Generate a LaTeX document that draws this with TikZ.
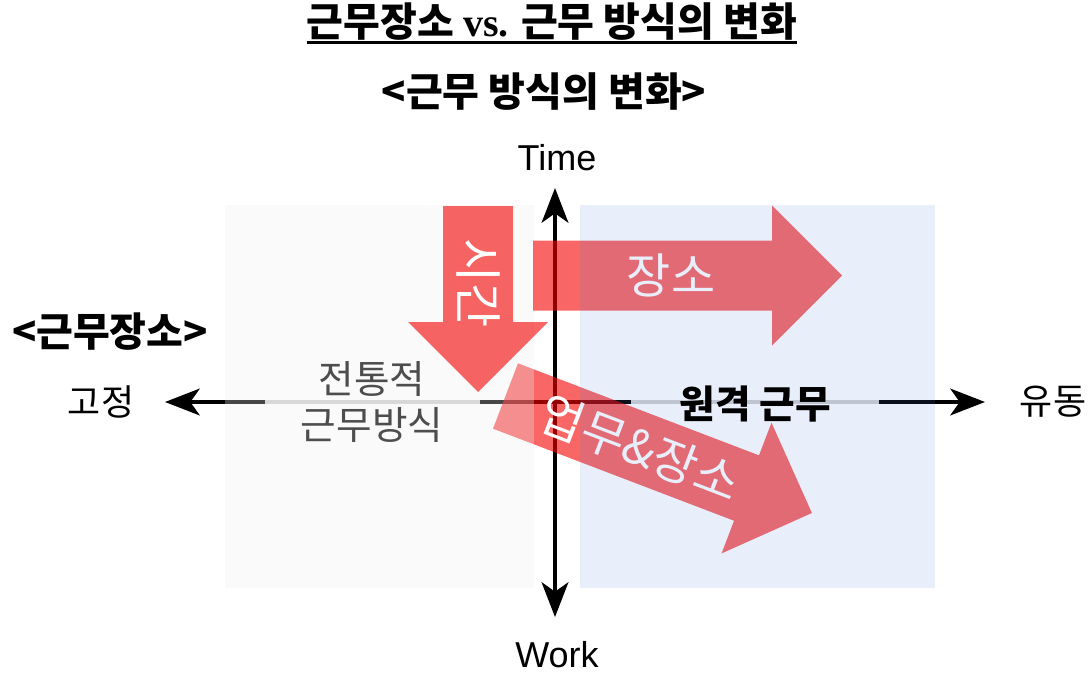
\documentclass[tikz,border=0pt]{standalone}
\usepackage{fontspec}
\usepackage{tikz}
\usetikzlibrary{arrows.meta}
\setmainfont{Liberation Sans}
\newfontfamily\kr{Noto Sans CJK KR}
\newfontfamily\tnr{Liberation Serif}

\definecolor{arrowred}{RGB}{245,0,0}
\definecolor{grayzone}{RGB}{237,237,237}
\definecolor{bluezone}{RGB}{78,132,217}
\definecolor{grayveil}{RGB}{249,249,249}
\definecolor{blueveil}{RGB}{232,239,250}
\definecolor{tradtext}{RGB}{77,77,77}

\tikzset{
  axis/.style={line width=3pt, {Stealth[length=26pt,width=20pt,inset=7pt]}-{Stealth[length=26pt,width=20pt,inset=7pt]}},
  redarrow/.style={fill=arrowred, fill opacity=0.6},
  fatarrow/.pic={
    \fill[redarrow] (0,-35) -- (#1,-35) -- (#1,-70) -- (#1+70,0) -- (#1,70) -- (#1,35) -- (0,35) -- cycle;
  },
  krtxt/.style={font=\kr\fontsize{27}{34}\selectfont},
  krbold/.style={font=\kr\bfseries\fontsize{30}{34}\selectfont},
  intext/.style={font=\kr\fontsize{36}{40}\selectfont, text=white},
  veil/.style={line width=3pt, draw opacity=0.82}
}

\begin{document}
\begin{tikzpicture}[x=0.75pt,y=-0.75pt]
  \useasboundingbox (0,0) rectangle (1091,674);

  % titles
  \node[krbold, anchor=base, inner sep=0] (title) at (552,37) {근무장소 {\tnr vs.} 근무 방식의 변화};
  \draw[line width=2.2pt] ([yshift=-4pt]title.base west) -- ([yshift=-4pt]title.base east);
  \node[krbold, anchor=base] (worktype) at (544,106) {<근무 방식의 변화>};
  \node[krbold, anchor=base] (place) at (110,346) {<근무장소>};

  % axis ends
  \node[font=\fontsize{27}{30}\selectfont, anchor=base] (time) at (557,170) {Time};
  \node[font=\fontsize{27}{30}\selectfont, anchor=base] (work) at (557,667) {Work};
  \node[krtxt] (fixed) at (101,402) {고정};
  \node[krtxt] (mobile) at (1053,402) {유동};

  \coordinate (hL) at (165,402);
  \coordinate (hR) at (985,402);
  \coordinate (vT) at (555,188);
  \coordinate (vB) at (555,617);
  \draw[axis] (hL) -- (hR);
  \draw[axis] (vT) -- (vB);

  % task & place arrow (under the grey zone)
  \pic[shift={(505.5,396)}, rotate=-20.9] {fatarrow=258};

  % grey zone
  \fill[grayzone, fill opacity=0.3] (225,205) rectangle (534,588);

  % time / place arrows
  \pic[shift={(478,206)}, rotate=-90] {fatarrow=116};
  \pic[shift={(533,275.5)}] {fatarrow=239};
  \node[intext, rotate=-90] (timetxt) at (478,283) {시간};
  \node[intext] (placetxt) at (671,275) {장소};
  \node[intext, rotate=-20.9] (bothtxt) at (640,448) {업무\&장소};

  % blue zone
  \fill[bluezone, fill opacity=0.13] (580,205) rectangle (935,588);

  % labels on the axis
  \coordinate (gvL) at (265,402);
  \coordinate (gvR) at (480,402);
  \coordinate (bvL) at (631,402);
  \coordinate (bvR) at (879,402);
  \draw[veil, grayveil] (gvL) -- (gvR);
  \draw[veil, blueveil] (bvL) -- (bvR);
  \node[krtxt, font=\kr\fontsize{29}{34}\selectfont, text=tradtext, align=center] (trad) at (372,402) {전통적\\근무방식};
  \node[krbold, font=\kr\bfseries\fontsize{29}{34}\selectfont] (remote) at (755,404) {원격 근무};
\end{tikzpicture}
\end{document}
